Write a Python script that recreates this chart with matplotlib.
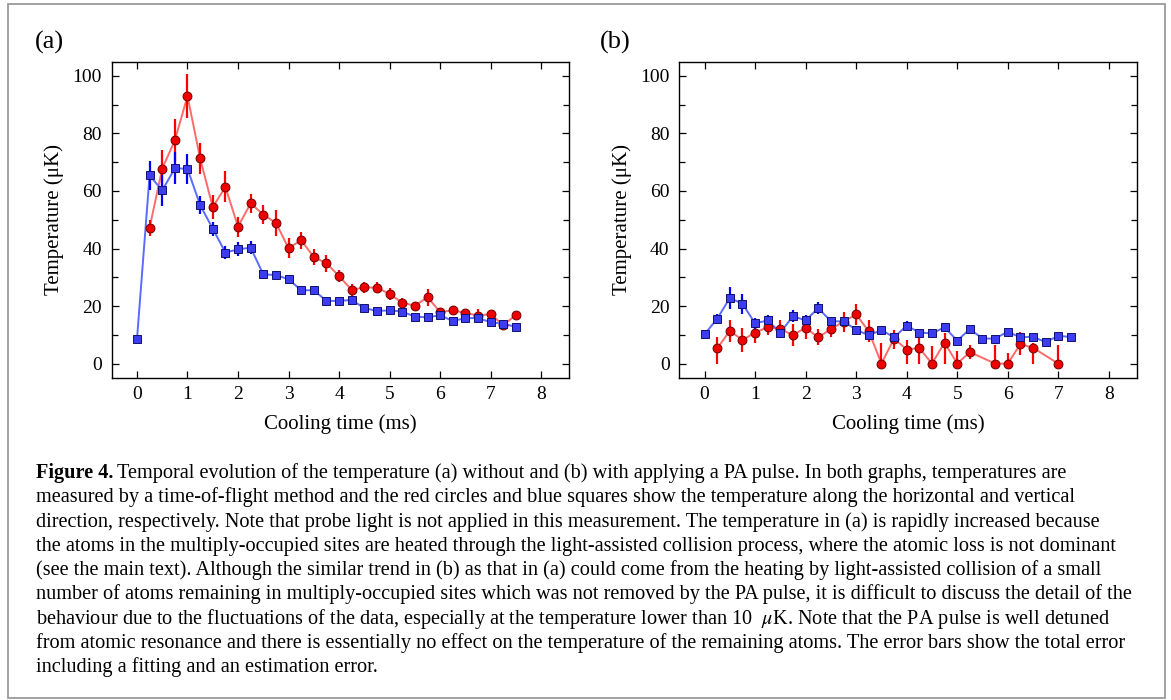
import numpy as np
import matplotlib
matplotlib.use("Agg")
import matplotlib.pyplot as plt
from matplotlib.patches import Rectangle
from matplotlib.ticker import MultipleLocator

plt.rcParams["font.family"] = ["Liberation Serif", "DejaVu Serif"]
plt.rcParams["mathtext.fontset"] = "stix"

# --- data: panel (a) without PA pulse ---
a_blue_x = [0, 0.25, 0.5, 0.75, 1.0, 1.25, 1.5, 1.75, 2.0, 2.25, 2.5, 2.75, 3.0, 3.25, 3.5, 3.75,
            4.0, 4.25, 4.5, 4.75, 5.0, 5.25, 5.5, 5.75, 6.0, 6.25, 6.5, 6.75, 7.0, 7.25, 7.5]
a_blue_y = [8.4, 65.4, 60.2, 67.9, 67.7, 55.1, 46.9, 38.6, 39.7, 40.3, 31.0, 30.8, 29.3, 25.5, 25.5, 21.8,
            21.8, 22.1, 19.3, 18.3, 18.5, 18.1, 16.3, 16.1, 16.8, 14.8, 15.8, 15.8, 14.4, 13.8, 12.8]
a_blue_err = [0.8, 4.9, 5.5, 5.5, 5.2, 3.0, 2.4, 2.2, 2.4, 2.3, 1.5, 1.5, 1.5, 1.0, 1.0, 1.0,
              1.0, 1.0, 1.0, 1.0, 1.0, 1.0, 1.0, 1.0, 1.0, 1.0, 1.0, 1.0, 1.0, 1.0, 1.0]

a_red_x = [0.25, 0.5, 0.75, 1.0, 1.25, 1.5, 1.75, 2.0, 2.25, 2.5, 2.75, 3.0, 3.25, 3.5, 3.75,
           4.0, 4.25, 4.5, 4.75, 5.0, 5.25, 5.5, 5.75, 6.0, 6.25, 6.5, 6.75, 7.0, 7.25, 7.5]
a_red_y = [47.2, 67.8, 77.6, 93.0, 71.3, 54.4, 61.4, 47.6, 55.7, 51.8, 48.9, 40.1, 42.9, 37.0, 34.9,
           30.4, 25.6, 26.5, 26.4, 24.2, 21.2, 20.1, 23.1, 17.9, 18.5, 17.6, 16.7, 17.2, 13.3, 17.0]
a_red_err = [2.7, 6.6, 7.5, 7.8, 5.5, 4.3, 5.4, 3.5, 3.2, 3.2, 4.5, 3.5, 2.9, 2.8, 3.0,
             2.0, 2.0, 2.0, 2.0, 2.0, 1.5, 1.0, 3.0, 1.5, 1.2, 1.0, 2.4, 1.0, 1.5, 0.8]

# --- data: panel (b) with PA pulse ---
b_blue_x = [0, 0.25, 0.5, 0.75, 1.0, 1.25, 1.5, 1.75, 2.0, 2.25, 2.5, 2.75, 3.0, 3.25, 3.5, 3.75,
            4.0, 4.25, 4.5, 4.75, 5.0, 5.25, 5.5, 5.75, 6.0, 6.25, 6.5, 6.75, 7.0, 7.25]
b_blue_y = [10.2, 15.6, 22.8, 20.8, 14.0, 15.0, 10.8, 16.5, 15.0, 19.3, 14.7, 14.7, 11.8, 9.8, 11.7, 9.1,
            13.2, 10.8, 10.5, 12.6, 8.0, 12.0, 8.7, 8.7, 11.1, 9.1, 9.4, 7.4, 9.7, 9.2]
b_blue_err = [1.0, 1.8, 3.7, 3.5, 1.8, 1.8, 1.2, 2.0, 1.8, 2.2, 1.2, 1.2, 1.0, 1.0, 1.0, 1.0,
              1.5, 1.0, 1.0, 1.5, 1.0, 1.0, 1.0, 1.0, 1.0, 1.0, 1.0, 1.0, 1.0, 1.0]

b_red_x = [0.25, 0.5, 0.75, 1.0, 1.25, 1.5, 1.75, 2.0, 2.25, 2.5, 2.75, 3.0, 3.25, 3.5, 3.75,
           4.0, 4.25, 4.5, 4.75, 5.0, 5.25, 5.75, 6.0, 6.25, 6.5, 7.0]
b_red_y = [5.3, 11.4, 8.2, 10.8, 12.7, 12.0, 9.9, 12.5, 9.1, 12.0, 14.6, 17.1, 11.2, 0.0, 8.7,
           4.9, 5.4, 0.0, 7.3, 0.0, 4.0, 0.0, 0.0, 6.8, 5.5, 0.0]
b_red_err_lo = [5.3, 3.8, 4.2, 3.8, 2.6, 3.2, 3.9, 3.8, 2.8, 2.7, 3.5, 3.7, 3.8, 0.0, 3.5,
                4.9, 5.4, 0.0, 7.3, 0.0, 2.3, 0.0, 0.0, 3.9, 5.5, 0.0]
b_red_err_hi = [4.0, 3.8, 4.2, 3.8, 2.6, 3.2, 3.9, 3.8, 2.8, 2.7, 3.5, 3.7, 3.8, 7.0, 3.0,
                3.4, 3.8, 6.1, 3.5, 4.3, 2.6, 6.6, 3.7, 4.2, 1.5, 6.4]

caption_lines = [
    "Temporal evolution of the temperature (a) without and (b) with applying a PA pulse. In both graphs, temperatures are",
    "measured by a time-of-flight method and the red circles and blue squares show the temperature along the horizontal and vertical",
    "direction, respectively. Note that probe light is not applied in this measurement. The temperature in (a) is rapidly increased because",
    "the atoms in the multiply-occupied sites are heated through the light-assisted collision process, where the atomic loss is not dominant",
    "(see the main text). Although the similar trend in (b) as that in (a) could come from the heating by light-assisted collision of a small",
    "number of atoms remaining in multiply-occupied sites which was not removed by the PA pulse, it is difficult to discuss the detail of the",
    "behaviour due to the fluctuations of the data, especially at the temperature lower than 10  $\\mu$K. Note that the PA pulse is well detuned",
    "from atomic resonance and there is essentially no effect on the temperature of the remaining atoms. The error bars show the total error",
    "including a fitting and an estimation error.",
]

RED_LINE = "#ff6a6a"
RED_FACE = "#ee0000"
RED_EDGE = "#700000"
RED_ERR = "#ff0000"
BLUE_LINE = "#5b6bff"
BLUE_FACE = "#3c3cf0"
BLUE_EDGE = "#101070"
BLUE_ERR = "#0000ff"

fig = plt.figure(figsize=(11.71, 7.0), dpi=100)
W, H = 1171, 700

fig.patches.append(Rectangle((8 / W, 2 / H), 1157 / W, 694 / H, transform=fig.transFigure,
                             fill=False, edgecolor="#9a9a9a", linewidth=1.3))

ax_a = fig.add_axes([111.7 / W, 1 - 378 / H, 457.3 / W, 316.5 / H])
ax_b = fig.add_axes([679.3 / W, 1 - 378 / H, 457.3 / W, 316.5 / H])


def draw_series(ax, x, y, err, line_c, face_c, edge_c, err_c, marker, ms):
    ax.plot(x, y, color=line_c, lw=1.4, zorder=2)
    ax.errorbar(x, y, yerr=err, fmt="none", ecolor=err_c, elinewidth=1.6, capsize=0, zorder=3)
    ax.plot(x, y, linestyle="none", marker=marker, ms=ms, mfc=face_c, mec=edge_c, mew=0.7, zorder=4)


draw_series(ax_a, a_red_x, a_red_y, a_red_err, RED_LINE, RED_FACE, RED_EDGE, RED_ERR, "o", 6.4)
draw_series(ax_a, a_blue_x, a_blue_y, a_blue_err, BLUE_LINE, BLUE_FACE, BLUE_EDGE, BLUE_ERR, "s", 5.6)
draw_series(ax_b, b_red_x, b_red_y, [b_red_err_lo, b_red_err_hi], RED_LINE, RED_FACE, RED_EDGE, RED_ERR, "o", 6.4)
draw_series(ax_b, b_blue_x, b_blue_y, b_blue_err, BLUE_LINE, BLUE_FACE, BLUE_EDGE, BLUE_ERR, "s", 5.6)

for ax in (ax_a, ax_b):
    ax.set_xlim(-0.5, 8.55)
    ax.set_ylim(-5, 105)
    ax.xaxis.set_major_locator(MultipleLocator(1))
    ax.yaxis.set_major_locator(MultipleLocator(20))
    ax.yaxis.set_minor_locator(MultipleLocator(10))
    ax.tick_params(which="both", direction="in", top=True, right=True, labelsize=14, width=0.9)
    ax.tick_params(which="major", length=5)
    ax.tick_params(which="minor", length=4)
    ax.tick_params(axis="x", pad=6)
    ax.tick_params(axis="y", pad=7)
    for sp in ax.spines.values():
        sp.set_linewidth(1.0)
    ax.set_xlabel("Cooling time (ms)", fontsize=15, labelpad=8)
    ax.set_ylabel("Temperature (\u03bcK)", fontsize=15, labelpad=6)

fig.text(35 / W, 1 - 42 / H, "(a)", fontsize=19, va="center", ha="left")
fig.text(600 / W, 1 - 42 / H, "(b)", fontsize=19, va="center", ha="left")

# caption
cap_size = 14.6
x0 = 36 / W
y0 = 1 - 478 / H
dy = 24.3 / H
renderer = fig.canvas.get_renderer()
bold = fig.text(x0, y0, "Figure 4.", fontsize=cap_size, fontweight="bold", va="baseline", ha="left")
bb = bold.get_window_extent(renderer)
fig.text(bb.x1 / W + 4 / W, y0, caption_lines[0], fontsize=cap_size, va="baseline", ha="left")
for i, line in enumerate(caption_lines[1:], start=1):
    fig.text(x0, y0 - i * dy, line, fontsize=cap_size, va="baseline", ha="left")

fig.savefig("out.png", dpi=100)
